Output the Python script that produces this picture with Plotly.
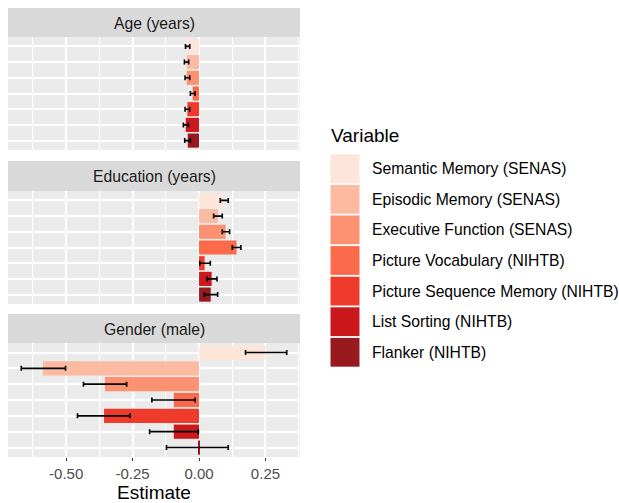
import plotly.graph_objects as go

variables = [
    "Semantic Memory (SENAS)",
    "Episodic Memory (SENAS)",
    "Executive Function (SENAS)",
    "Picture Vocabulary (NIHTB)",
    "Picture Sequence Memory (NIHTB)",
    "List Sorting (NIHTB)",
    "Flanker (NIHTB)",
]
colors = ["#FEE5D9", "#FCBBA1", "#FC9272", "#FB6A4A", "#EF3B2C", "#CB181D", "#991A1E"]

facets = ["Age (years)", "Education (years)", "Gender (male)"]

age_est = [-0.044, -0.046, -0.046, -0.024, -0.044, -0.050, -0.0425]
age_lo = [-0.051, -0.055, -0.0525, -0.0325, -0.0525, -0.059, -0.054]
age_hi = [-0.035, -0.039, -0.035, -0.015, -0.035, -0.040, -0.0325]

edu_est = [0.0925, 0.071, 0.100, 0.141, 0.021, 0.0475, 0.044]
edu_lo = [0.080, 0.055, 0.0875, 0.125, 0.0025, 0.030, 0.020]
edu_hi = [0.110, 0.0875, 0.115, 0.1575, 0.0425, 0.0675, 0.070]

gen_est = [0.25, -0.5875, -0.354, -0.095, -0.3575, -0.095, -0.0025]
gen_lo = [0.175, -0.669, -0.435, -0.1775, -0.4575, -0.186, -0.1225]
gen_hi = [0.33, -0.5025, -0.2725, -0.015, -0.26, -0.0025, 0.11]

x_tickvals = [-0.5, -0.25, 0.0, 0.25]
x_ticktext = ["-0.50", "-0.25", "0.00", "0.25"]
x_minor = [-0.625, -0.375, -0.125, 0.125, 0.375]

W, H = 619, 503
FONT = "Liberation Sans, Arial, Helvetica, sans-serif"

def py(y):
    return 1 - y / H

def px(x):
    return x / W

panel_x = (8, 300)
panels = [(37, 150), (191, 304), (343, 457)]
strips = [(8, 37), (161, 191), (314, 343)]

data = [(age_est, age_lo, age_hi), (edu_est, edu_lo, edu_hi), (gen_est, gen_lo, gen_hi)]

fig = go.Figure()
layout = dict(
    width=W, height=H,
    margin=dict(l=0, r=0, t=0, b=0),
    paper_bgcolor="white",
    plot_bgcolor="#EBEBEB",
    showlegend=False,
    bargap=0.1,
    font=dict(family=FONT),
)
shapes = []
annotations = []

for i, (est, lo, hi) in enumerate(data):
    sfx = "" if i == 0 else str(i + 1)
    fig.add_trace(go.Bar(
        x=est, y=variables, orientation="h",
        marker=dict(color=colors, line=dict(width=0)),
        error_x=dict(type="data",
                     array=[h - e for h, e in zip(hi, est)],
                     arrayminus=[e - l for e, l in zip(est, lo)],
                     color="black", thickness=1.6, width=2.5),
        xaxis="x" + sfx, yaxis="y" + sfx,
    ))
    last = i == len(data) - 1
    layout["xaxis" + sfx] = dict(
        domain=[px(panel_x[0]), px(panel_x[1])],
        range=[-0.719, 0.38],
        anchor="y" + sfx,
        tickvals=x_tickvals, ticktext=x_ticktext,
        showticklabels=last,
        ticks="outside" if last else "",
        ticklen=3, tickwidth=1, tickcolor="#333333",
        tickfont=dict(size=15, color="#4D4D4D", family=FONT),
        showgrid=True, gridcolor="white", gridwidth=1.8,
        zeroline=False, showline=False,
        minor=dict(tickvals=x_minor, showgrid=True, gridcolor="white", gridwidth=0.9, ticks=""),
        automargin=False,
    )
    layout["yaxis" + sfx] = dict(
        domain=[py(panels[i][1]), py(panels[i][0])],
        anchor="x" + sfx,
        type="category",
        categoryorder="array", categoryarray=variables,
        range=[6.6, -0.6],
        showticklabels=False, ticks="",
        showgrid=True, gridcolor="white", gridwidth=1.8,
        zeroline=False, showline=False,
        automargin=False,
    )
    shapes.append(dict(type="rect", xref="paper", yref="paper",
                       x0=px(panel_x[0]), x1=px(panel_x[1]),
                       y0=py(strips[i][1]), y1=py(strips[i][0]),
                       fillcolor="#D9D9D9", line=dict(width=0), layer="below"))
    annotations.append(dict(text=facets[i], xref="paper", yref="paper",
                            x=px((panel_x[0] + panel_x[1]) / 2),
                            y=py((strips[i][0] + strips[i][1]) / 2 + 0.5),
                            xanchor="center", yanchor="middle", showarrow=False,
                            font=dict(size=15.7, color="#1A1A1A", family=FONT)))

annotations.append(dict(text="Estimate", xref="paper", yref="paper",
                        x=px((panel_x[0] + panel_x[1]) / 2), y=py(492),
                        xanchor="center", yanchor="middle", showarrow=False,
                        font=dict(size=19, color="black", family=FONT)))

annotations.append(dict(text="Variable", xref="paper", yref="paper",
                        x=px(329), y=py(135), xanchor="left", yanchor="middle",
                        showarrow=False, font=dict(size=19, color="black", family=FONT)))
key_top, key_step, key_h = 154.3, 30.6, 28.8
for j, (v, c) in enumerate(zip(variables, colors)):
    y0 = key_top + j * key_step
    shapes.append(dict(type="rect", xref="paper", yref="paper",
                       x0=px(330.5), x1=px(359.5), y0=py(y0 + key_h), y1=py(y0),
                       fillcolor=c, line=dict(width=0)))
    annotations.append(dict(text=v, xref="paper", yref="paper",
                            x=px(370), y=py(y0 + key_h / 2), xanchor="left", yanchor="middle",
                            showarrow=False, font=dict(size=15.7, color="black", family=FONT)))

layout["shapes"] = shapes
layout["annotations"] = annotations
fig.update_layout(**layout)
fig.write_html("out.html", config={"displayModeBar": False},
               post_script="document.body.style.margin='0';document.body.style.overflow='hidden';")
